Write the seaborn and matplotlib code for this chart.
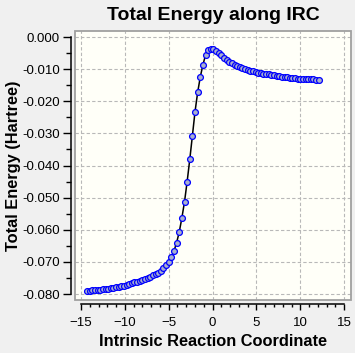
#!/usr/bin/env python3

# IRC energy profile, GaussView style

import matplotlib
matplotlib.use("Agg")
import matplotlib.pyplot as plt
import matplotlib.patches as patches
from matplotlib.ticker import MultipleLocator, FormatStrFormatter
import seaborn as sns
import pandas as pd

# reaction coordinate
irc = [-14.3, -14.0, -13.7, -13.4, -13.1, -12.8, -12.5, -12.2, -11.9, -11.6,
       -11.3, -11.0, -10.7, -10.4, -10.1, -9.8, -9.5, -9.2, -8.9, -8.6,
       -8.3, -8.0, -7.7, -7.4, -7.1, -6.8, -6.5, -6.2, -5.9, -5.6,
       -5.3, -5.0, -4.7, -4.4, -4.1, -3.8, -3.5, -3.2, -2.9, -2.6,
       -2.3, -2.0, -1.7, -1.4, -1.1, -0.8, -0.5, -0.2, 0.1, 0.4,
       0.7, 1.0, 1.3, 1.6, 1.9, 2.2, 2.5, 2.8, 3.1, 3.4,
       3.7, 4.0, 4.3, 4.6, 4.9, 5.2, 5.5, 5.8, 6.1, 6.4,
       6.7, 7.0, 7.3, 7.6, 7.9, 8.2, 8.5, 8.8, 9.1, 9.4,
       9.7, 10.0, 10.3, 10.6, 10.9, 11.2, 11.5, 11.8, 12.1]

# total energy in Hartree (relative)
energy = [-0.0789, -0.0789, -0.0788, -0.0787, -0.0787, -0.0786, -0.0785, -0.0784, -0.0783, -0.0782,
          -0.0781, -0.0779, -0.0778, -0.0776, -0.0774, -0.0772, -0.0770, -0.0767, -0.0764, -0.0762,
          -0.0759, -0.0756, -0.0753, -0.0750, -0.0746, -0.0742, -0.0738, -0.0733, -0.0727, -0.0720,
          -0.0711, -0.0700, -0.0685, -0.0666, -0.0640, -0.0607, -0.0563, -0.0513, -0.0450, -0.0381,
          -0.0307, -0.0232, -0.0172, -0.0124, -0.0086, -0.0056, -0.0041, -0.0036, -0.0036, -0.0042,
          -0.0050, -0.0057, -0.0064, -0.0071, -0.0077, -0.0082, -0.0086, -0.0089, -0.0092, -0.0095,
          -0.0098, -0.0102, -0.0105, -0.0107, -0.0110, -0.0112, -0.0113, -0.0114, -0.0115, -0.0116,
          -0.0117, -0.0118, -0.0120, -0.0121, -0.0123, -0.0124, -0.0125, -0.0126, -0.0127, -0.0128,
          -0.0129, -0.0130, -0.0131, -0.0131, -0.0132, -0.0132, -0.0132, -0.0133, -0.0135]

title = "Total Energy along IRC"
xlabel = "Intrinsic Reaction Coordinate"
ylabel = "Total Energy (Hartree)"

sns.set_style("white")
plt.rcParams["font.family"] = ["Liberation Sans", "DejaVu Sans"]
plt.rcParams["text.color"] = "black"
plt.rcParams["axes.labelcolor"] = "black"
plt.rcParams["xtick.color"] = "black"
plt.rcParams["ytick.color"] = "black"


def main():
    df = pd.DataFrame({"IRC": irc, "Energy": energy})

    fig = plt.figure(figsize=(3.55, 3.53), dpi=100, facecolor="#f0f0f0")
    ax = fig.add_axes([0.2113, 0.150, 0.778, 0.762])
    ax.set_facecolor("#fffff8")

    sns.lineplot(data=df, x="IRC", y="Energy", sort=False, estimator=None,
                 color="black", lw=1.1, marker="o", markersize=4.2,
                 markerfacecolor="#a8b0cc", markeredgecolor="#0000ff",
                 markeredgewidth=0.9, ax=ax, zorder=3)

    ax.set_xlim(-15.68, 15.8)
    ax.set_ylim(-0.08187, 0.00187)

    ax.xaxis.set_major_locator(MultipleLocator(5))
    ax.xaxis.set_minor_locator(MultipleLocator(1))
    ax.yaxis.set_major_locator(MultipleLocator(0.01))
    ax.yaxis.set_minor_locator(MultipleLocator(0.005))
    ax.yaxis.set_major_formatter(FormatStrFormatter("%.3f"))

    ax.grid(True, which="major", color="#b8b8b8", ls=(0, (3, 2)), lw=0.8)

    sns.despine(ax=ax, offset=3, trim=True)
    for s in ("left", "bottom"):
        ax.spines[s].set_color("black")
        ax.spines[s].set_linewidth(1.1)

    # gray frame around plot area
    ax.add_patch(patches.Rectangle((0, 0), 1, 1, transform=ax.transAxes,
                                   fill=False, edgecolor="#a0a0a0", lw=1.3,
                                   clip_on=False, zorder=5))

    ax.tick_params(axis="y", which="major", length=6, width=1, color="black",
                   labelsize=9.5, pad=2, left=True)
    ax.tick_params(axis="y", which="minor", length=3.5, width=1, color="black", left=True)
    ax.tick_params(axis="x", which="major", length=4, width=1, color="black",
                   labelsize=9.5, pad=5, bottom=True)
    ax.tick_params(axis="x", which="minor", length=2.5, width=1, color="black", bottom=True)

    ax.set_title(title, fontsize=14, fontweight="bold", pad=8)
    ax.set_xlabel(xlabel, fontsize=11.8, fontweight="bold", labelpad=4)
    ax.set_ylabel(ylabel, fontsize=11.8, fontweight="bold", labelpad=1)

    fig.savefig("out.png", dpi=100, facecolor=fig.get_facecolor())


if __name__ == "__main__":
    main()
